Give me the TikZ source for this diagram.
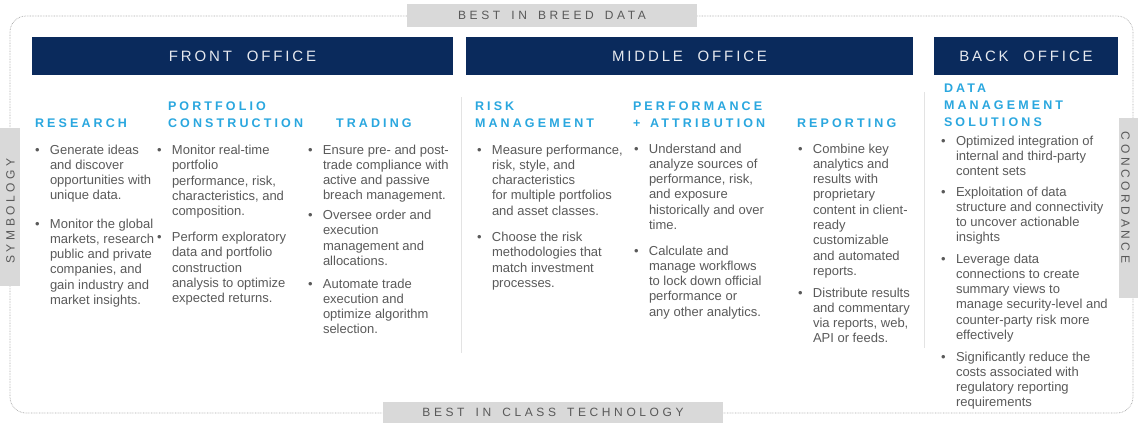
\documentclass[tikz,border=0pt]{standalone}
\usepackage{fontspec}
\setmainfont{Liberation Sans}
\newfontfamily\barfont[LetterSpace=19,WordSpace=2.1]{Liberation Sans}
\newfontfamily\hdfont[LetterSpace=25,WordSpace=1.5]{Liberation Sans}
\newfontfamily\lblfont[LetterSpace=30,WordSpace=1.6]{Liberation Sans}
\definecolor{navy}{HTML}{0A2A5C}
\definecolor{headblue}{HTML}{2AA7DF}
\definecolor{bodygray}{HTML}{5A5A5A}
\definecolor{lblgray}{HTML}{D9D9D9}
\definecolor{lbltext}{HTML}{595959}
\definecolor{bartext}{HTML}{E6E9EF}
\definecolor{framegray}{HTML}{ABABAB}
\definecolor{sepgray}{HTML}{E3E3E3}
\newcommand{\bpar}[1]{\begin{tabular}[t]{@{}p{15pt}@{}l@{}}\textbullet&#1\end{tabular}}
\newcommand{\hdlines}[1]{\begin{tabular}[b]{@{}l@{}}#1\end{tabular}}
\begin{document}
\begin{tikzpicture}[x=1pt,y=-1pt,
  every node/.style={inner sep=0pt,outer sep=0pt},
  frame/.style={draw=framegray,line width=0.7pt,dash pattern=on 0.7pt off 0.9pt,rounded corners=16pt},
  navybar/.style={fill=navy,draw=none,text=bartext,font=\barfont\fontsize{15}{18}\selectfont},
  graylbl/.style={fill=lblgray,draw=none,text=lbltext,font=\lblfont\fontsize{12}{14}\selectfont},
  lbltxt/.style={text=lbltext,font=\lblfont\fontsize{12}{14}\selectfont},
  head/.style={anchor=base west,text=headblue,font=\hdfont\bfseries\fontsize{12.5}{16.8}\selectfont},
  body/.style={anchor=base west,text=bodygray,font=\fontsize{13}{15.3}\selectfont},
  sep/.style={draw=sepgray,line width=0.8pt}]
\useasboundingbox (0,0) rectangle (1138,423);
\fill[white] (0,0) rectangle (1138,423);
% outer dotted frame
\draw[frame] (10,16) rectangle (1133,413);
% gray labels
\node[graylbl,minimum width=290pt,minimum height=23pt] (breed) at (552,15.5) {BEST IN BREED DATA};
\node[graylbl,minimum width=340pt,minimum height=21pt] (tech) at (553,412.5) {BEST IN CLASS TECHNOLOGY};
\node[graylbl,minimum width=158pt,minimum height=20pt,rotate=90] (symbox) at (10,207) {};
\node[lbltxt,rotate=90] (symb) at (10.5,211) {SYMBOLOGY};
\node[graylbl,minimum width=180pt,minimum height=19pt,rotate=-90] (conbox) at (1128.5,208) {};
\node[lbltxt,rotate=-90] (conc) at (1125.5,197.5) {CONCORDANCE};
% navy bars
\node[navybar,minimum width=421pt,minimum height=38pt] (fo) at (242.5,56) {FRONT OFFICE};
\node[navybar,minimum width=447pt,minimum height=38pt] (mo) at (689.5,56) {MIDDLE OFFICE};
\node[navybar,minimum width=184pt,minimum height=38pt] (bo) at (1026,56) {BACK OFFICE};
% separators
\draw[sep] (461,97) -- (461,353);
\draw[sep] (924,92) -- (924,348);
% headings
\node[head] (hres) at (35,127.3) {RESEARCH};
\node[head] (hpc) at (168,127.3) {\hdlines{PORTFOLIO\\CONSTRUCTION}};
\node[head] (htr) at (336,127.3) {TRADING};
\node[head] (hrm) at (475,127.3) {\hdlines{RISK\\MANAGEMENT}};
\node[head] (hpa) at (633,127.3) {\hdlines{PERFORMANCE\\+ ATTRIBUTION}};
\node[head] (hrep) at (797,127.3) {REPORTING};
\node[head] (hdm) at (944,126.5) {\hdlines{DATA\\MANAGEMENT\\SOLUTIONS}};
% research
\node[body] (r1) at (35,154) {\bpar{Generate ideas\\&and discover\\&opportunities with\\&unique data.}};
\node[body] (r2) at (35,228) {\bpar{Monitor the global\\&markets, research\\&public and private\\&companies, and\\&gain industry and\\&market insights.}};
% portfolio construction
\node[body] (p1) at (157,154.5) {\bpar{Monitor real-time\\&portfolio\\&performance, risk,\\&characteristics, and\\&composition.}};
\node[body] (p2) at (157,241.5) {\bpar{Perform exploratory\\&data and portfolio\\&construction\\&analysis to optimize\\&expected returns.}};
% trading
\node[body] (t1) at (308,154) {\bpar{Ensure pre- and post-\\&trade compliance with\\&active and passive\\&breach management.}};
\node[body] (t2) at (308,219.5) {\bpar{Oversee order and\\&execution\\&management and\\&allocations.}};
\node[body] (t3) at (308,288) {\bpar{Automate trade\\&execution and\\&optimize algorithm\\&selection.}};
% risk management
\node[body] (m1) at (477,154) {\bpar{Measure performance,\\&risk, style, and\\&characteristics\\&for multiple portfolios\\&and asset classes.}};
\node[body] (m2) at (477,241.5) {\bpar{Choose the risk\\&methodologies that\\&match investment\\&processes.}};
% performance + attribution
\node[body] (a1) at (634,153) {\bpar{Understand and\\&analyze sources of\\&performance, risk,\\&and exposure\\&historically and over\\&time.}};
\node[body] (a2) at (634,255) {\bpar{Calculate and\\&manage workflows\\&to lock down official\\&performance or\\&any other analytics.}};
% reporting
\node[body] (e1) at (798,153) {\bpar{Combine key\\&analytics and\\&results with\\&proprietary\\&content in client-\\&ready\\&customizable\\&and automated\\&reports.}};
\node[body] (e2) at (798,297) {\bpar{Distribute results\\&and commentary\\&via reports, web,\\&API or feeds.}};
% data management solutions
\node[body] (d1) at (941,145) {\bpar{Optimized integration of\\&internal and third-party\\&content sets}};
\node[body] (d2) at (941,196) {\bpar{Exploitation of data\\&structure and connectivity\\&to uncover actionable\\&insights}};
\node[body] (d3) at (941,263) {\bpar{Leverage data\\&connections to create\\&summary views to\\&manage security-level and\\&counter-party risk more\\&effectively}};
\node[body] (d4) at (941,361) {\bpar{Significantly reduce the\\&costs associated with\\&regulatory reporting\\&requirements}};
\end{tikzpicture}
\end{document}
